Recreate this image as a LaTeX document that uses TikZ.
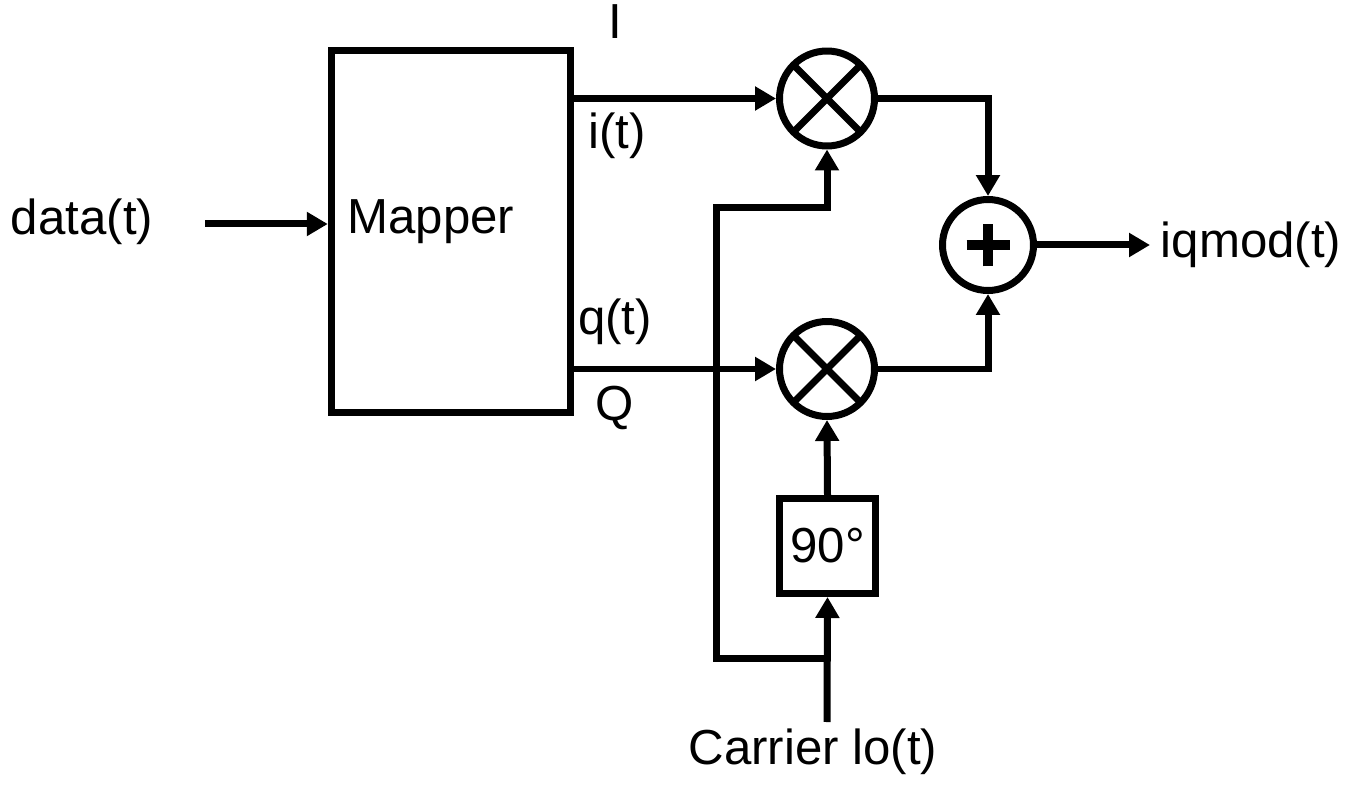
\documentclass[tikz,border=0pt]{standalone}
\usepackage{fontspec}
\setmainfont{Liberation Sans}
\usetikzlibrary{arrows.meta}
\begin{document}
\begin{tikzpicture}[x=0.02cm,y=-0.02cm,
  lw/.style={line width=0.14cm},
  conn/.style={lw,-{Triangle[length=0.42cm,width=0.46cm]}},
  wire/.style={lw},
  txt/.style={font=\fontsize{28}{33}\selectfont,inner sep=0pt},
  mix/.style={circle,draw,lw,minimum size=1.9cm,inner sep=0pt,
    path picture={\draw[lw] (path picture bounding box.south west) -- (path picture bounding box.north east)
      (path picture bounding box.north west) -- (path picture bounding box.south east);}},
  sumnode/.style={circle,draw,lw,minimum size=1.82cm,inner sep=0pt},
  blockbox/.style={draw,lw,inner sep=0pt}
]
\path[use as bounding box] (0,0) rectangle (1346,787);

% nodes
\node[blockbox,minimum width=4.79cm,minimum height=7.26cm] (mapper) at (451,231.5) {};
\node[txt] (mappertxt) at (431,222) {Mapper};
\node[txt] (datatxt) at (82,222) {data(t)};
\node[mix] (m1) at (827,98.5) {};
\node[mix] (m2) at (827,369) {};
\node[sumnode] (s) at (988,245) {};
\node[blockbox,minimum width=1.92cm,minimum height=1.9cm,txt] (ph) at (827.5,546) {90°};
\node[txt] (ilab) at (615,22) {I};
\node[txt] (itlab) at (617,136) {i(t)};
\node[txt] (qtlab) at (615,322) {q(t)};
\node[txt] (qlab) at (615,408) {Q};
\node[txt] (outtxt) at (1251,245) {iqmod(t)};
\node[txt] (cartxt) at (813,752) {Carrier lo(t)};

% plus sign
\draw[line width=0.2cm] ([xshift=-0.43cm]s.center) -- ([xshift=0.43cm]s.center)
  ([yshift=-0.43cm]s.center) -- ([yshift=0.43cm]s.center);

% coordinates
\coordinate (din) at (205,224);
\coordinate (out) at (1150,245);
\coordinate (lo) at (827,722);
\coordinate (j) at (827,658);
\coordinate (b1) at (716,658);
\coordinate (b2) at (716,208);
\coordinate (b3) at (827,208);

% connectors
\draw[conn] (din) -- (din -| mapper.west);
\draw[conn] (m1 -| mapper.east) -- (m1.west);
\draw[conn] (m2 -| mapper.east) -- (m2.west);
\draw[conn] (m1.east) -| (s.north);
\draw[conn] (m2.east) -| (s.south);
\draw[conn] (s.east) -- (out);
\draw[conn] (lo) -- (ph.south);
\draw[conn] (ph.north) -- (m2.south);
\draw[conn] (j) -- (b1) -- (b2) -- (b3) -- (m1.south);
\end{tikzpicture}
\end{document}
